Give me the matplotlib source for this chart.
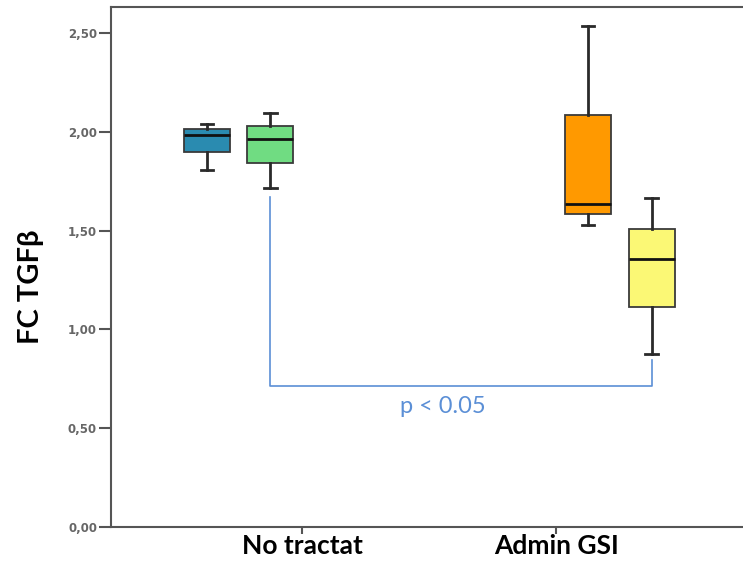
import matplotlib.pyplot as plt
from matplotlib.ticker import FuncFormatter

# Datos (FC TGFb)
grupos = ['No tractat', 'Admin GSI']
pos_ticks = [1/6, 5/6]
# cada caja: (whisker inferior, Q1, mediana, Q3, whisker superior)
caixes = [
    (1.806, 1.896, 1.985, 2.014, 2.042),   # blau
    (1.714, 1.842, 1.966, 2.030, 2.094),   # verd
    (1.529, 1.584, 1.635, 2.084, 2.535),   # taronja
    (0.877, 1.116, 1.357, 1.509, 1.665),   # groc
]
colors = ['#2a8bb0', '#70dc82', '#ff9900', '#fbf875']
posicions = [-0.0833, 0.0833, 0.9167, 1.0833]

# claudator de significacio
brac_y = 0.715
brac_esq = 1.672
brac_dre = 0.845
p_text = 'p < 0.05'

plt.rcParams['font.family'] = ['Lato', 'DejaVu Sans']

fig = plt.figure(figsize=(7.43, 5.63), dpi=100)
ax = fig.add_axes([111/743, 1 - 527/563, 640/743, 520/563])

stats = []
for c in caixes:
    stats.append({'whislo': c[0], 'q1': c[1], 'med': c[2], 'q3': c[3],
                  'whishi': c[4], 'fliers': []})

bp = ax.bxp(stats, positions=posicions, widths=0.121, patch_artist=True,
            manage_ticks=False, capwidths=0.033,
            boxprops=dict(edgecolor='#3a3a3a', linewidth=1.3),
            whiskerprops=dict(color='#2a2a2a', linewidth=2),
            capprops=dict(color='#2a2a2a', linewidth=2),
            medianprops=dict(color='#111111', linewidth=2))
for patch, col in zip(bp['boxes'], colors):
    patch.set_facecolor(col)

blau = '#5b8fd6'
ax.plot([posicions[1], posicions[1], posicions[3], posicions[3]],
        [brac_esq, brac_y, brac_y, brac_dre], color=blau, lw=1.2)
ax.text(0.535, 0.609, p_text, color=blau, fontsize=17, ha='center', va='center')

ax.set_xlim(-0.3346, 1.344)
ax.set_ylim(0, 2.632)
ax.set_yticks([0, 0.5, 1.0, 1.5, 2.0, 2.5])
ax.yaxis.set_major_formatter(FuncFormatter(lambda v, p: f'{v:.2f}'.replace('.', ',')))
ax.set_xticks(pos_ticks)
ax.set_xticklabels(grupos, fontsize=19, fontweight='bold')
for lab in ax.get_yticklabels():
    lab.set_fontfamily('DejaVu Sans')
    lab.set_fontsize(8.5)
    lab.set_color('#666666')
    lab.set_fontweight('bold')
ax.tick_params(axis='y', length=9, width=1.5, color='#555555', pad=1)
ax.tick_params(axis='x', length=5, width=1.5, color='#555555', pad=0)

for s in ['left', 'top', 'bottom']:
    ax.spines[s].set_color('#555555')
    ax.spines[s].set_linewidth(1.5)
ax.spines['right'].set_visible(False)

fig.text(31/743, 1 - 287/563, 'FC TGFβ', rotation=90, fontsize=21,
         fontweight='bold', ha='center', va='center')

fig.savefig('out.png', dpi=100)
